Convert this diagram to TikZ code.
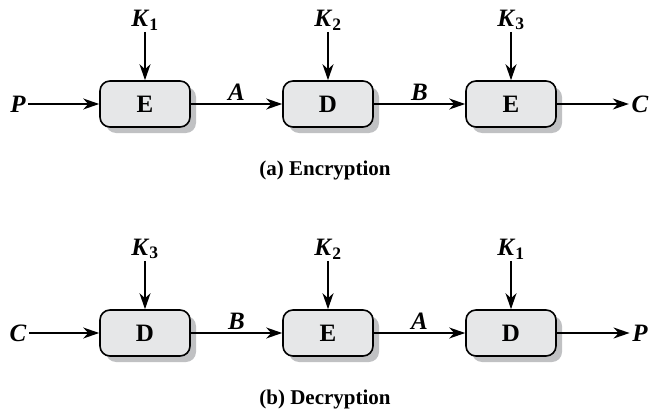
\documentclass[tikz,border=0pt]{standalone}
\usepackage{fontspec}
\setmainfont{Liberation Serif}
\usetikzlibrary{arrows.meta}
\definecolor{boxgray}{RGB}{230,231,232}
\definecolor{shadowgray}{RGB}{192,193,195}
\tikzstyle{cipher}=[x=1pt, y=-1pt, line width=1.6pt, font=\bfseries]
\tikzstyle{blk}=[draw, rounded corners=10pt, fill=boxgray, minimum width=90pt, minimum height=46pt, font=\fontsize{25}{27}\selectfont\bfseries, preaction={fill=shadowgray, draw=none, transform canvas={xshift=6pt, yshift=-6pt}}]
\tikzstyle{key}=[inner sep=1pt, font=\fontsize{25}{27}\selectfont\bfseries]
\tikzstyle{io}=[inner sep=2pt, font=\fontsize{25}{27}\selectfont\bfseries\itshape]
\tikzstyle{edge}=[-{Stealth[length=16pt, width=11pt, inset=5pt]}]
\tikzstyle{edgeLabel}=[midway, above, inner sep=3pt, font=\fontsize{25}{27}\selectfont\bfseries\itshape]
\tikzstyle{caption}=[font=\fontsize{21}{23}\selectfont\bfseries]
\newcommand{\keyK}[1]{\textit{K}\textsubscript{#1}}
\begin{document}
\begin{tikzpicture}[cipher]
\useasboundingbox (0,0) rectangle (651,412);

%(a) encryption
\draw (145,104) node[blk] (e1) {E};
\draw (328,104) node[blk] (d1) {D};
\draw (511,104) node[blk] (e2) {E};
\node[key] at (145,20) (k1a) {\keyK{1}};
\node[key] at (328,20) (k2a) {\keyK{2}};
\node[key] at (511,20) (k3a) {\keyK{3}};
\node[io] at (18,104) (pa) {P};
\node[io] at (640,104) (ca) {C};
\draw[edge] (pa) -- (e1);
\draw[edge] (e1) -- (d1) node[edgeLabel] {A};
\draw[edge] (d1) -- (e2) node[edgeLabel] {B};
\draw[edge] (e2) -- (ca);
\draw[edge] (k1a) -- (e1);
\draw[edge] (k2a) -- (d1);
\draw[edge] (k3a) -- (e2);
\node[caption] at (325,170) (capa) {(a) Encryption};

%(b) decryption
\draw (145,333) node[blk] (d2) {D};
\draw (328,333) node[blk] (e3) {E};
\draw (511,333) node[blk] (d3) {D};
\node[key] at (145,249) (k3b) {\keyK{3}};
\node[key] at (328,249) (k2b) {\keyK{2}};
\node[key] at (511,249) (k1b) {\keyK{1}};
\node[io] at (18,333) (cb) {C};
\node[io] at (640,333) (pb) {P};
\draw[edge] (cb) -- (d2);
\draw[edge] (d2) -- (e3) node[edgeLabel] {B};
\draw[edge] (e3) -- (d3) node[edgeLabel] {A};
\draw[edge] (d3) -- (pb);
\draw[edge] (k3b) -- (d2);
\draw[edge] (k2b) -- (e3);
\draw[edge] (k1b) -- (d3);
\node[caption] at (325,399) (capb) {(b) Decryption};
\end{tikzpicture}
\end{document}
